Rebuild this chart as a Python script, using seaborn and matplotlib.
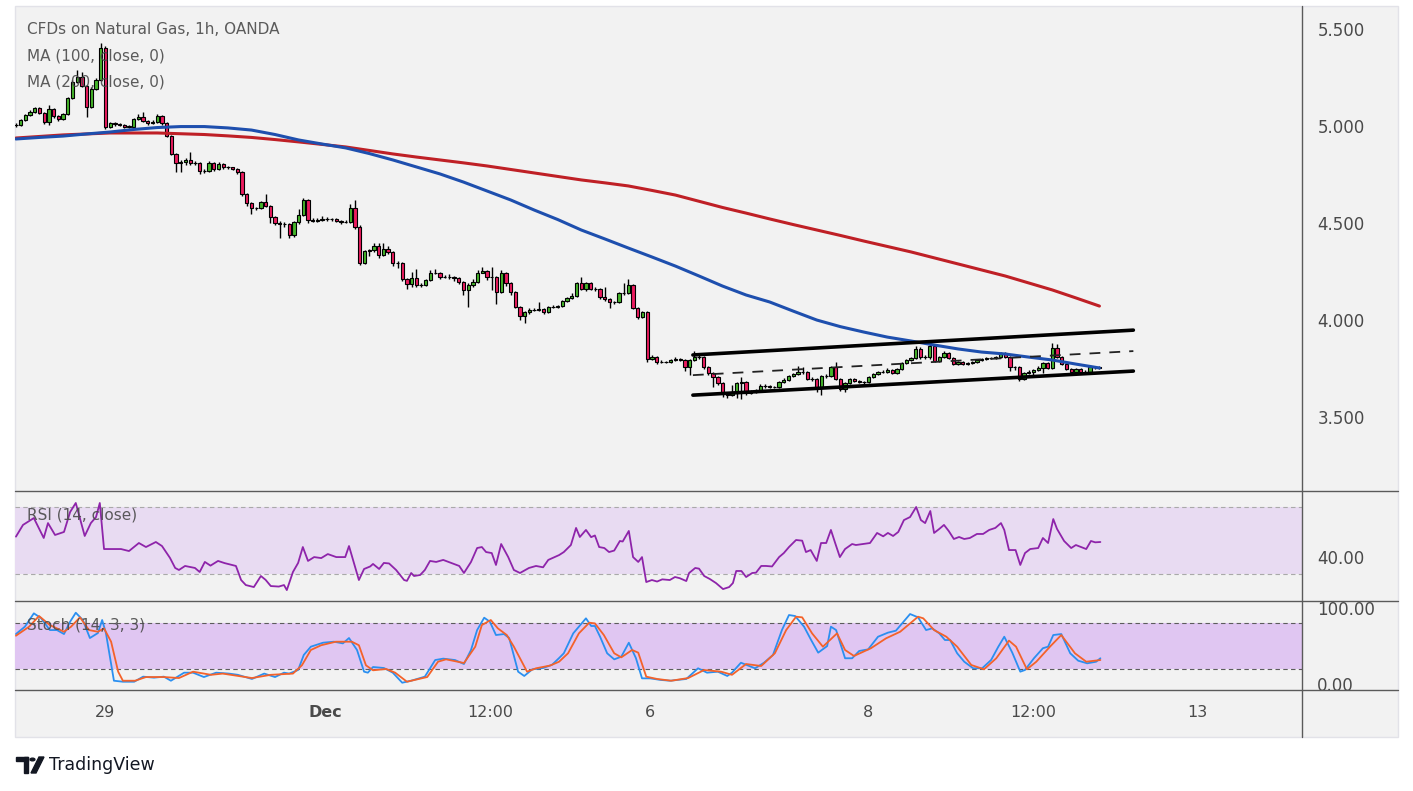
import numpy as np
import seaborn as sns
import matplotlib.pyplot as plt
import matplotlib.ticker as mticker
from matplotlib.lines import Line2D
from matplotlib.patches import Rectangle, Polygon, Circle

# ---- data (bar index = one hourly candle) ----
first_open = 5.005
closes = [
    5.005, 5.031, 5.057, 5.072, 5.093, 5.067, 5.021, 5.088, 5.052, 5.036,
    5.062, 5.144, 5.227, 5.253, 5.206, 5.098, 5.191, 5.237, 5.402, 4.995,
    5.015, 5.010, 5.005, 4.997, 4.997, 5.036, 5.046, 5.027, 5.014, 5.020,
    5.052, 5.014, 4.948, 4.856, 4.808, 4.812, 4.825, 4.808, 4.810, 4.768,
    4.770, 4.810, 4.778, 4.804, 4.789, 4.787, 4.780, 4.763, 4.649, 4.603,
    4.577, 4.577, 4.608, 4.587, 4.531, 4.500, 4.495, 4.495, 4.438, 4.505,
    4.541, 4.619, 4.515, 4.510, 4.515, 4.520, 4.520, 4.520, 4.510, 4.505,
    4.505, 4.577, 4.479, 4.294, 4.356, 4.360, 4.381, 4.335, 4.366, 4.350,
    4.294, 4.294, 4.211, 4.186, 4.216, 4.180, 4.180, 4.206, 4.242, 4.242,
    4.222, 4.222, 4.222, 4.216, 4.196, 4.155, 4.180, 4.196, 4.242, 4.253,
    4.222, 4.222, 4.144, 4.242, 4.191, 4.144, 4.067, 4.021, 4.041, 4.052,
    4.052, 4.057, 4.041, 4.067, 4.067, 4.072, 4.098, 4.113, 4.124, 4.191,
    4.160, 4.191, 4.160, 4.160, 4.119, 4.108, 4.093, 4.093, 4.139, 4.139,
    4.180, 4.062, 4.015, 4.041, 3.799, 3.809, 3.784, 3.784, 3.784, 3.794,
    3.799, 3.794, 3.758, 3.794, 3.809, 3.810, 3.758, 3.727, 3.706, 3.675,
    3.624, 3.613, 3.629, 3.675, 3.680, 3.624, 3.630, 3.635, 3.660, 3.660,
    3.655, 3.655, 3.680, 3.691, 3.711, 3.722, 3.732, 3.732, 3.696, 3.696,
    3.649, 3.711, 3.711, 3.758, 3.696, 3.644, 3.675, 3.696, 3.686, 3.680,
    3.680, 3.706, 3.722, 3.732, 3.732, 3.742, 3.727, 3.747, 3.778, 3.794,
    3.804, 3.851, 3.809, 3.809, 3.866, 3.789, 3.809, 3.830, 3.804, 3.773,
    3.784, 3.773, 3.778, 3.784, 3.794, 3.799, 3.804, 3.804, 3.809, 3.830,
    3.809, 3.758, 3.758, 3.696, 3.727, 3.732, 3.742, 3.753, 3.778, 3.753,
    3.856, 3.809, 3.773, 3.747, 3.732, 3.747, 3.732, 3.732, 3.758, 3.758,
    3.755,
]
highs = [
    5.015, 5.036, 5.062, 5.082, 5.100, 5.098, 5.072, 5.108, 5.093, 5.057,
    5.067, 5.150, 5.237, 5.289, 5.280, 5.211, 5.200, 5.247, 5.428, 5.410,
    5.021, 5.021, 5.015, 5.010, 5.003, 5.041, 5.062, 5.072, 5.031, 5.031,
    5.062, 5.057, 5.021, 4.953, 4.861, 4.825, 4.835, 4.866, 4.820, 4.815,
    4.780, 4.820, 4.815, 4.815, 4.810, 4.795, 4.790, 4.785, 4.768, 4.655,
    4.608, 4.585, 4.613, 4.650, 4.592, 4.536, 4.510, 4.505, 4.500, 4.510,
    4.570, 4.630, 4.624, 4.525, 4.525, 4.536, 4.530, 4.528, 4.525, 4.515,
    4.515, 4.600, 4.620, 4.490, 4.361, 4.366, 4.397, 4.397, 4.397, 4.380,
    4.355, 4.304, 4.300, 4.216, 4.247, 4.262, 4.190, 4.211, 4.258, 4.262,
    4.247, 4.232, 4.237, 4.227, 4.222, 4.200, 4.190, 4.211, 4.258, 4.273,
    4.258, 4.273, 4.227, 4.258, 4.247, 4.196, 4.150, 4.070, 4.046, 4.062,
    4.060, 4.093, 4.062, 4.072, 4.075, 4.080, 4.103, 4.118, 4.139, 4.196,
    4.222, 4.196, 4.196, 4.170, 4.165, 4.170, 4.113, 4.100, 4.144, 4.191,
    4.211, 4.186, 4.067, 4.046, 4.046, 3.820, 3.815, 3.794, 3.790, 3.799,
    3.809, 3.804, 3.799, 3.799, 3.840, 3.820, 3.815, 3.763, 3.732, 3.711,
    3.680, 3.629, 3.665, 3.680, 3.706, 3.686, 3.640, 3.645, 3.670, 3.668,
    3.665, 3.662, 3.686, 3.700, 3.716, 3.727, 3.763, 3.758, 3.737, 3.706,
    3.700, 3.716, 3.720, 3.763, 3.784, 3.700, 3.680, 3.700, 3.700, 3.691,
    3.688, 3.711, 3.727, 3.737, 3.740, 3.753, 3.747, 3.753, 3.784, 3.799,
    3.809, 3.866, 3.861, 3.820, 3.876, 3.871, 3.815, 3.840, 3.835, 3.809,
    3.789, 3.789, 3.784, 3.789, 3.799, 3.804, 3.809, 3.810, 3.815, 3.835,
    3.835, 3.815, 3.765, 3.763, 3.732, 3.742, 3.747, 3.763, 3.784, 3.784,
    3.881, 3.876, 3.815, 3.778, 3.753, 3.753, 3.753, 3.740, 3.768, 3.765,
    3.763,
]
lows = [
    4.995, 5.000, 5.026, 5.052, 5.067, 5.062, 5.010, 5.005, 5.041, 5.026,
    5.031, 5.057, 5.139, 5.222, 5.200, 5.046, 5.093, 5.186, 5.232, 4.985,
    4.990, 5.000, 5.000, 4.990, 4.990, 4.990, 5.031, 5.021, 5.005, 5.010,
    5.015, 5.005, 4.943, 4.850, 4.763, 4.763, 4.800, 4.800, 4.800, 4.755,
    4.760, 4.765, 4.770, 4.773, 4.780, 4.780, 4.775, 4.755, 4.640, 4.590,
    4.545, 4.565, 4.570, 4.580, 4.500, 4.490, 4.423, 4.480, 4.423, 4.430,
    4.495, 4.536, 4.500, 4.505, 4.505, 4.510, 4.510, 4.512, 4.505, 4.495,
    4.498, 4.500, 4.470, 4.284, 4.290, 4.330, 4.350, 4.320, 4.330, 4.340,
    4.280, 4.270, 4.200, 4.160, 4.170, 4.170, 4.170, 4.175, 4.200, 4.235,
    4.210, 4.215, 4.212, 4.200, 4.185, 4.130, 4.067, 4.170, 4.190, 4.240,
    4.206, 4.155, 4.082, 4.140, 4.175, 4.130, 4.062, 4.000, 3.985, 4.030,
    4.045, 4.045, 4.030, 4.035, 4.060, 4.062, 4.067, 4.093, 4.108, 4.118,
    4.155, 4.150, 4.155, 4.150, 4.108, 4.098, 4.062, 4.085, 4.088, 4.130,
    4.134, 4.055, 4.005, 4.010, 3.784, 3.794, 3.773, 3.778, 3.778, 3.778,
    3.789, 3.789, 3.737, 3.716, 3.789, 3.800, 3.750, 3.716, 3.655, 3.665,
    3.603, 3.598, 3.608, 3.598, 3.592, 3.613, 3.618, 3.625, 3.630, 3.652,
    3.648, 3.648, 3.650, 3.675, 3.686, 3.706, 3.716, 3.722, 3.690, 3.686,
    3.629, 3.613, 3.700, 3.706, 3.690, 3.634, 3.630, 3.670, 3.680, 3.675,
    3.672, 3.675, 3.700, 3.716, 3.725, 3.727, 3.720, 3.722, 3.742, 3.773,
    3.789, 3.799, 3.799, 3.800, 3.799, 3.784, 3.784, 3.804, 3.799, 3.768,
    3.768, 3.768, 3.768, 3.773, 3.778, 3.789, 3.794, 3.798, 3.799, 3.804,
    3.804, 3.737, 3.742, 3.686, 3.690, 3.722, 3.711, 3.737, 3.727, 3.747,
    3.747, 3.804, 3.768, 3.742, 3.727, 3.727, 3.727, 3.725, 3.727, 3.750,
    3.750,
]

# moving averages sampled every 5 bars
ma_idx = [0, 5, 10, 15, 20, 25, 30, 35, 40, 45, 50, 55, 60, 65, 70, 75, 80, 85,
          90, 95, 100, 105, 110, 115, 120, 125, 130, 135, 140, 145, 150, 155,
          160, 165, 170, 175, 180, 185, 190, 195, 200, 205, 210, 215, 220, 225, 230]
ma100 = [4.933, 4.941, 4.948, 4.959, 4.969, 4.982, 4.992, 4.997, 4.997, 4.990,
         4.979, 4.956, 4.928, 4.907, 4.887, 4.858, 4.825, 4.789, 4.753, 4.711,
         4.665, 4.619, 4.567, 4.518, 4.464, 4.418, 4.371, 4.325, 4.278, 4.227,
         4.175, 4.129, 4.093, 4.046, 4.000, 3.966, 3.938, 3.912, 3.892, 3.871,
         3.851, 3.835, 3.825, 3.809, 3.794, 3.773, 3.753]
ma200 = [4.938, 4.946, 4.954, 4.959, 4.964, 4.964, 4.964, 4.960, 4.956, 4.949,
         4.941, 4.930, 4.918, 4.905, 4.892, 4.874, 4.856, 4.840, 4.825, 4.810,
         4.794, 4.776, 4.758, 4.740, 4.722, 4.707, 4.691, 4.668, 4.644, 4.612,
         4.580, 4.551, 4.521, 4.492, 4.464, 4.436, 4.407, 4.379, 4.351, 4.320,
         4.289, 4.258, 4.227, 4.191, 4.155, 4.114, 4.072]

# drawn channel (bar index, price)
channel_x = [143.7, 237.2]
channel_upper = [3.820, 3.948]
channel_mid = [3.716, 3.840]
channel_lower = [3.613, 3.737]

rsi_idx = [0, 1.5, 3.8, 5.9, 6.8, 8.3, 10.2, 11.5, 12.7, 14.6, 15.9, 17, 17.8, 18.7,
           22.3, 24, 26.1, 27.6, 29.7, 31, 32.7, 33.8, 34.6, 35.9, 38, 39, 40.1, 41.3,
           42.9, 44.3, 46.7, 47.8, 48.8, 50.5, 52, 53, 54.1, 55.8, 56.9, 57.5, 58.8,
           59.9, 60.9, 62, 63.3, 64.8, 66.2, 68, 69.9, 70.7, 72.8, 73.9, 75.2, 75.8,
           77.1, 78.1, 79.2, 80.7, 82.4, 83, 83.9, 84.5, 85.8, 86.8, 87.9, 89.2, 90.7,
           92.1, 94.1, 95.1, 96.6, 97.9, 98.9, 99.8, 101, 101.9, 103, 104.5, 105.7,
           107, 108.9, 110.4, 111.9, 113, 115.3, 116.3, 117.8, 118.9, 119.7, 121,
           122.1, 122.9, 123.8, 124.9, 125.9, 127, 128.2, 128.8, 130.1, 131, 132.1,
           132.9, 133.8, 135, 136.1, 137.2, 138.8, 139.9, 140.9, 142.3, 142.9, 144.2,
           145, 146.1, 147.3, 148.6, 150.1, 151.4, 152.2, 152.9, 154, 155, 156.3,
           157.1, 158.2, 159.2, 160.5, 162, 163, 164.1, 165.6, 166.9, 167.7, 168.7,
           170, 170.9, 172, 173, 173.9, 174.9, 176, 177.5, 178.3, 179.8, 181.3, 182.8,
           184.1, 185.1, 186.2, 187.3, 188.5, 189.8, 191.1, 192.1, 193, 194.1, 194.9,
           196, 197, 198, 199.1, 200.2, 201.3, 202.5, 204, 205.3, 206.6, 207.9, 209.1,
           209.8, 210.8, 212.2, 213.2, 214.2, 215.3, 217, 218, 219.1, 220.2, 221,
           222.5, 224, 225, 226.1, 227.2, 228.2, 229.1, 230.2]
rsi_val = [52.3, 59.3, 63.4, 51.5, 60.4, 53.3, 55.1, 67, 72.4, 52.7, 60.4, 64, 72.4, 44.9,
           44.9, 43.7, 48.5, 46.1, 49.1, 46.7, 39.6, 33.6, 32.4, 34.8, 33.6, 31.2, 37.2, 35,
           37.8, 36.5, 34.8, 26.4, 23.4, 22.2, 28.8, 26.5, 22.8, 22.5, 23.4, 20.4, 31.2,
           36.6, 46.1, 37.8, 40.1, 39.5, 41.9, 40.1, 40.1, 46.7, 26.4, 33, 34.5, 36,
           33, 36.6, 36.3, 32.4, 26.4, 25.9, 30.6, 28.8, 29.4, 32.4, 37.8, 37.2, 38.4,
           36.9, 34.8, 30.6, 37.2, 45.5, 46.1, 43.1, 42.5, 35.4, 47.9, 40.1, 32.4,
           30.6, 33.6, 34.8, 34, 38.4, 41.3, 43.1, 47.3, 57.5, 52.1, 56.3,
           52, 53, 46.1, 45.5, 43.1, 44, 49.7, 49.4, 55.7, 40.1, 37.2,
           40.1, 25.2, 26.4, 25.5, 26.8, 26.4, 28.2, 27.5, 25.8, 30.6, 33.6,
           33.2, 28.8, 27, 24.6, 21, 22.2, 24.6, 31.8, 31.8, 28.2, 30.6,
           30.8, 34.8, 34.8, 34.5, 40.1, 42.5, 46.1, 50.3, 49.9, 43.1, 44.3,
           37.8, 48.5, 48.5, 56.3, 48.5, 40.1, 44.9, 47.9, 47.3, 47.9, 48.5, 54.5,
           52.5, 54.5, 52.7, 55.1, 62.2, 64, 70, 62.2, 60.4, 67.6, 54.5,
           56.9, 59.3, 55.7, 50.9, 52.1, 50.9, 51.5, 53.9, 53.9, 56.3, 57.5, 60.4,
           56.3, 44.3, 44.3, 35.4, 42.5, 44.9, 45.5, 51.5, 48.5, 62.8, 56.9,
           49.7, 45.5, 47.3, 46.1, 44.9, 49.7, 48.9, 49.1]

stk_idx = [0, 1.9, 3.8, 5.3, 7.2, 8.7, 10.2, 11.5, 12.7, 14.2, 15.7, 17.4, 18.3, 19.1,
           20.8, 22.7, 25.1, 27, 29.3, 31.4, 32.9, 35.7, 37.6, 39.9, 42.5, 45.2, 47.1,
           50.1, 52.7, 55, 56.9, 58, 59.9, 61.1, 62.6, 65.2, 67.5, 69.4, 70.7, 72.4,
           73.9, 74.7, 75.8, 78.1, 80, 82, 83.9, 86.8, 89, 90.7, 93.2, 95.1, 96.6,
           97.9, 99.4, 100.6, 101.9, 103.6, 104.7, 106.6, 107.9, 109.6, 111.9, 113.8,
           115.3, 116.3, 118.3, 121, 122.1, 122.9, 124, 125.5, 127, 128.5, 130.1,
           131.6, 132.9, 134.6, 136.9, 138.9, 142.3, 144.8, 146.7, 149, 151, 152,
           153.9, 156.9, 158.8, 160.7, 162.6, 164.1, 165.4, 167.3, 168.8, 170.3,
           172.2, 173, 174.1, 176, 177.5, 179, 180.9, 183, 185.1, 186.8, 189.8,
           191.5, 193.2, 194.5, 196, 197.2, 198.3, 199.8, 201.3, 203.2, 205.1, 207,
           208.5, 209.8, 211.5, 213.2, 214.2, 216.1, 218, 219.1, 220.2, 221.9, 223.8,
           225.5, 227.4, 229.3, 230.2]
stk_val = [65.6, 75.2, 92.6, 86.5, 70.8, 70.8, 65.6, 81.7, 93.4, 83.9, 60.4, 66.9, 83.9, 66.9,
           4.7, 3.4, 3.4, 10, 8.7, 10, 4.7, 15.2, 15.2, 9.5, 15.2, 14, 12.4,
           7, 14, 9.5, 15.2, 14, 18.7, 38.3, 49.1, 54.3, 55.6, 53.4, 60.4, 44.8,
           16.5, 15.2, 22.6, 21.3, 15.2, 2.1, 4.7, 10, 31.7, 33.5, 31.7, 26.5, 44.8,
           70.8, 86.9, 81.7, 64.3, 65.6, 60.4, 16.5, 10.9, 19.5, 21.3, 25.5,
           34.3, 40.5, 66.5, 86.1, 76.1, 76.1, 62.1, 40.5, 32.6, 36, 54.3,
           34.3, 7.8, 7.8, 5.7, 4.7, 7, 20.9, 15.2, 16.5, 10.9, 15.2,
           28.2, 20.9, 28.2, 38.3, 70.8, 90.4, 89.1, 75.2, 57.8, 41.3,
           49.9, 75.2, 70.8, 34, 34, 43.5, 45.6, 62.1, 67.4, 70, 91.7,
           87.4, 70.8, 73, 66.5, 57.8, 57.8, 40.5, 29.5, 20.9, 20.9, 31.7,
           48.7, 62.1, 41.3, 16.5, 18.7, 34, 47.1, 49.1, 64.3, 65.6, 40.5,
           30.8, 27.4, 29.5, 34]

std_idx = [0, 2.8, 4.9, 7.2, 10.2, 11.7, 13.6, 15.5, 17.4, 18.7, 20.2, 21.7, 22.7, 25.3,
           27.6, 31.4, 34.6, 37.6, 41.4, 43.9, 50.1, 54.1, 58.8, 60.7, 62.6, 64.8, 67.9,
           71.3, 72.8, 74.3, 75.8, 78.6, 80.5, 83, 87.3, 89.6, 91.3, 95.1, 97.5, 98.9,
           100.8, 102.3, 104.2, 105.7, 108.5, 110.4, 113.4, 115.3, 117.2, 119.5, 121.7,
           122.9, 124.8, 127, 128.5, 130.8, 132.1, 133.8, 136.1, 139.1, 142.7, 146.1,
           149.7, 152, 155, 158.2, 161.1, 163.5, 165.6, 166.9, 169, 171.3, 174.3, 176,
           177.9, 181.5, 184.7, 187.7, 191.5, 192.6, 194.9, 197.5, 199.8, 202.8, 205.5,
           208.1, 210.8, 212.3, 214.6, 216.6, 219.5, 221.9, 224.8, 227.2, 230.2]
std_val = [63.4, 75.2, 89.1, 77.3, 68.6, 75.2, 87.4, 70.8, 68.6, 73, 55.6, 16.5, 4.7, 4.7,
           9.5, 9.5, 8.2, 16.5, 12.4, 14, 8.2, 12.4, 14, 24.8, 44.8, 51, 55.6,
           55.6, 51, 24.8, 18.3, 20, 15.2, 3.4, 9.5, 29.5, 32.6, 27.8, 49.1, 77.3,
           83.9, 73, 64.3, 49.1, 16.5, 20.9, 24.5, 29.5, 40.5, 66.5, 80.4,
           79.5, 64.3, 40.5, 35.2, 44.8, 41.3, 10, 7, 4.7, 8.2, 18.7,
           16.5, 12.4, 26.5, 23.9, 40.5, 70.8, 88.2, 87.4, 66.5, 49.1, 66.5, 44.8,
           37, 47.1, 60, 68.6, 88.2, 86.1, 70.8, 62.1, 49.1, 25.2, 19.6,
           34, 57, 49.1, 19.6, 29.5, 49.1, 64.3, 40.5, 29.5, 31.7]

price_ticks = [3.5, 4.0, 4.5, 5.0, 5.5]
time_ticks = [18.9, 65.6, 100.6, 134.6, 180.9, 215.9, 250.7]
time_labels = ["29", "Dec", "12:00", "6", "8", "12:00", "13"]

assert len(closes) == len(highs) == len(lows)
assert len(ma_idx) == len(ma100) == len(ma200)
assert len(rsi_idx) == len(rsi_val)
assert len(stk_idx) == len(stk_val)
assert len(std_idx) == len(std_val)

# ---- style ----
BG = "#f2f2f2"
TXT = "#4a4a4a"
SEP = "#5a5a5a"
GREEN = "#45b52b"
RED = "#eb1c5f"
BLUE = "#1e4fae"
MAROON = "#bf2026"

sns.set_theme(style="white")
plt.rcParams["font.family"] = ["DejaVu Sans"]

W, H = 1413, 791
fig = plt.figure(figsize=(W / 100, H / 100), dpi=100)
fig.patch.set_facecolor("white")


def box(x0, y0, x1, y1):
    # pixel box (top-left origin) -> figure rect
    return [x0 / W, 1 - y1 / H, (x1 - x0) / W, (y1 - y0) / H]


# chart background sits below the axes
fig.patches.append(Rectangle((15 / W, 1 - 737 / H), (1398 - 15) / W, (737 - 6) / H,
                             transform=fig.transFigure, facecolor=BG,
                             edgecolor="#e2e2e8", lw=1, zorder=-10))

XLIM = (-0.2, 273.0)
ax = fig.add_axes(box(15, 8, 1302, 491))
ax_r = fig.add_axes(box(15, 491, 1302, 601))
ax_s = fig.add_axes(box(15, 601, 1302, 690))
for a in (ax, ax_r, ax_s):
    a.set_facecolor("none")
    a.set_xlim(*XLIM)
    sns.despine(ax=a, left=True, right=True, top=True, bottom=True)
    a.yaxis.tick_right()
    a.tick_params(axis="y", length=0, pad=11, labelsize=12, labelcolor=TXT)
    a.tick_params(axis="x", length=0)

# ---- candles ----
opens = np.array([first_open] + closes[:-1])
c = np.array(closes)
idx = np.arange(len(c))
up = c >= opens
body_lo = np.minimum(opens, c)
body_h = np.maximum(np.abs(c - opens), 0.002)
ax.vlines(idx, lows, highs, color="black", lw=1.0, zorder=3)
ax.bar(idx, body_h, bottom=body_lo, width=0.7,
       color=np.where(up, GREEN, RED), edgecolor="black", linewidth=0.8, zorder=4)

sns.lineplot(x=ma_idx, y=ma200, ax=ax, color=MAROON, linewidth=2.2,
             estimator=None, sort=False, zorder=5)
sns.lineplot(x=ma_idx, y=ma100, ax=ax, color=BLUE, linewidth=2.2,
             estimator=None, sort=False, zorder=5)

sns.lineplot(x=channel_x, y=channel_upper, ax=ax, color="black", linewidth=2.6, zorder=6)
sns.lineplot(x=channel_x, y=channel_lower, ax=ax, color="black", linewidth=2.6, zorder=6)
ax.plot(channel_x, channel_mid, color="#222222", linewidth=1.3,
        linestyle=(0, (6, 5)), zorder=6)

ax.set_ylim(3.119, 5.608)
ax.set_yticks(price_ticks)
ax.yaxis.set_major_formatter(mticker.FormatStrFormatter("%.3f"))
ax.set_xticks([])

# ---- RSI ----
ax_r.axhspan(30, 70, color="#e8dbf2", zorder=0, lw=0)
for lvl in (30, 70):
    ax_r.axhline(lvl, color="#a9a9a9", lw=0.8, linestyle=(0, (4, 3)), zorder=1)
sns.lineplot(x=rsi_idx, y=rsi_val, ax=ax_r, color="#8e24aa", linewidth=1.3,
             estimator=None, sort=False, zorder=3)
ax_r.set_ylim(13.88, 79.55)
ax_r.set_yticks([40])
ax_r.yaxis.set_major_formatter(mticker.FormatStrFormatter("%.2f"))
ax_r.set_xticks([])

# ---- Stochastic ----
ax_s.axhspan(20, 80, color="#e0c6f2", zorder=0, lw=0)
for lvl in (20, 80):
    ax_s.axhline(lvl, color="#5c5c5c", lw=0.8, linestyle=(0, (4, 3)), zorder=1)
sns.lineplot(x=stk_idx, y=stk_val, ax=ax_s, color="#2b8ff0", linewidth=1.3,
             estimator=None, sort=False, zorder=3)
sns.lineplot(x=std_idx, y=std_val, ax=ax_s, color="#f4622a", linewidth=1.3,
             estimator=None, sort=False, zorder=4)
ax_s.set_ylim(-7.4, 108.7)
ax_s.set_yticks([0, 100])
ax_s.yaxis.set_major_formatter(mticker.FormatStrFormatter("%.2f"))
ax_s.set_xticks(time_ticks)
ax_s.set_xticklabels(time_labels)
ax_s.tick_params(axis="x", pad=11, labelsize=11.5, labelcolor=TXT)
for lbl in ax_s.get_xticklabels():
    if lbl.get_text() == "Dec":
        lbl.set_fontweight("bold")
for a in (ax, ax_r, ax_s):
    a.set_xlabel("")
    a.set_ylabel("")

# ---- separators ----
for yy in (491, 601, 690):
    fig.add_artist(Line2D([15 / W, 1398 / W], [1 - yy / H] * 2, color=SEP, lw=1))
fig.add_artist(Line2D([1302 / W] * 2, [1 - 6 / H, 1 - 737 / H], color=SEP, lw=1))

# ---- legend texts ----
legend_rows = [("CFDs on Natural Gas, 1h, OANDA", 30), ("MA (100, close, 0)", 56),
               ("MA (200, close, 0)", 82), ("RSI (14, close)", 515),
               ("Stoch (14, 3, 3)", 625)]
for txt, yy in legend_rows:
    fig.text(27 / W, 1 - yy / H, txt, fontsize=11, color=TXT, va="center",
             ha="left", alpha=0.9, zorder=10)

# ---- TradingView mark ----
fig.patches.append(Rectangle((16 / W, 1 - 761 / H), 12 / W, 4 / H,
                             transform=fig.transFigure, color="#131722"))
fig.patches.append(Rectangle((23.5 / W, 1 - 773 / H), 4.5 / W, 16 / H,
                             transform=fig.transFigure, color="#131722"))
fig.patches.append(Circle((32.5 / W, 1 - 759.5 / H), 2.4 / W,
                          transform=fig.transFigure, color="#131722"))
fig.patches.append(Polygon([(31 / W, 1 - 773 / H), (36 / W, 1 - 773 / H),
                            (44 / W, 1 - 757 / H), (39 / W, 1 - 757 / H)],
                           closed=True, transform=fig.transFigure, color="#131722"))
fig.text(49 / W, 1 - 765 / H, "TradingView", fontsize=12.5, color="#131722",
         va="center", ha="left")

fig.savefig("out.png", dpi=100, facecolor="white")
